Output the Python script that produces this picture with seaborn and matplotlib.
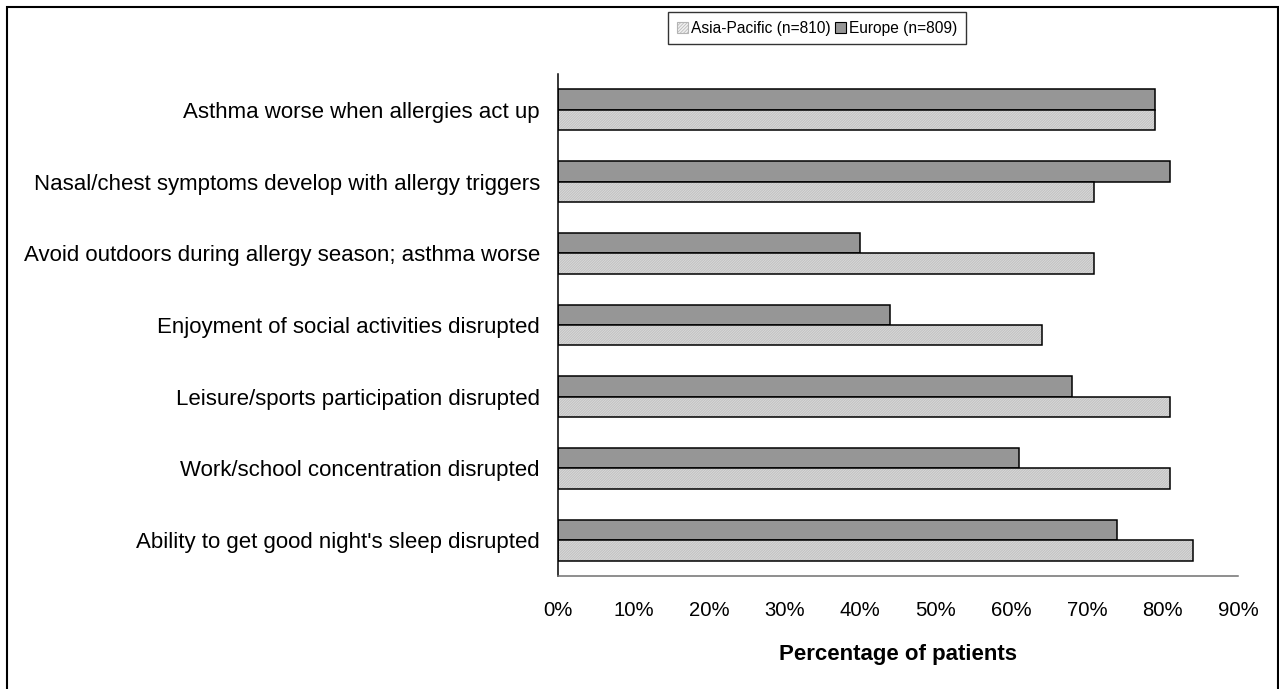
import numpy as np
import pandas as pd
import matplotlib.pyplot as plt
import seaborn as sns
from matplotlib.patches import Rectangle, Patch
from matplotlib.ticker import PercentFormatter

categories = [
    "Asthma worse when allergies act up",
    "Nasal/chest symptoms develop with allergy triggers",
    "Avoid outdoors during allergy season; asthma worse",
    "Enjoyment of social activities disrupted",
    "Leisure/sports participation disrupted",
    "Work/school concentration disrupted",
    "Ability to get good night's sleep disrupted",
]
europe = [79, 81, 40, 44, 68, 61, 74]
asia_pacific = [79, 71, 71, 64, 81, 81, 84]
series = ["Europe (n=809)", "Asia-Pacific (n=810)"]

df = pd.DataFrame({
    "Item": categories * 2,
    "Region": [series[0]] * len(categories) + [series[1]] * len(categories),
    "Percent": europe + asia_pacific,
})

sns.set_style("white")
plt.rcParams["font.family"] = ["Liberation Sans", "DejaVu Sans"]
plt.rcParams["hatch.linewidth"] = 0.5
plt.rcParams["text.color"] = "black"
plt.rcParams["xtick.color"] = "black"
plt.rcParams["ytick.color"] = "black"
plt.rcParams["axes.labelcolor"] = "black"

eu_color = "#969696"
ap_face = "#f0f0f0"
ap_hatch = "#b4b4b4"
hatch = "/" * 20

fig = plt.figure(figsize=(12.79, 6.89), dpi=100)
ax = fig.add_axes([558 / 1279, 1 - 576 / 689, (1238 - 558) / 1279, (576 - 74) / 689])

sns.barplot(data=df, y="Item", x="Percent", hue="Region", hue_order=series,
            order=categories, orient="h", width=0.57, saturation=1,
            palette=[eu_color, ap_face], edgecolor="black", linewidth=1.1,
            legend=False, ax=ax)

# hatched light bars for Asia-Pacific, keep a black outline on top
for bar in ax.containers[1]:
    bar.set_edgecolor(ap_hatch)
    bar.set_hatch(hatch)
    bar.set_linewidth(0)
    ax.add_patch(Rectangle(bar.get_xy(), bar.get_width(), bar.get_height(),
                           fill=False, edgecolor="black", linewidth=1.1, zorder=bar.get_zorder() + 0.1))

ax.set_xlim(0, 90)
ax.set_ylim(len(categories) - 0.5, -0.5)
ax.set_xticks(range(0, 91, 10))
ax.xaxis.set_major_formatter(PercentFormatter(decimals=0))
ax.set_yticks(range(len(categories)))
ax.set_yticklabels(categories)
ax.set_yticks(np.arange(-0.5, len(categories), 1), minor=True)

ax.tick_params(axis="y", which="major", length=0, pad=13, labelsize=16)
ax.tick_params(axis="y", which="minor", length=7, width=1.1, color="black", direction="out")
ax.tick_params(axis="x", which="major", length=5, width=1.1, color="#707070", direction="out",
               labelsize=14.6, pad=13)

for s in ["top", "right"]:
    ax.spines[s].set_visible(False)
ax.spines["left"].set_color("black")
ax.spines["left"].set_linewidth(1.1)
ax.spines["bottom"].set_color("#707070")
ax.spines["bottom"].set_linewidth(1.1)

ax.set_ylabel("")
ax.set_xlabel("Percentage of patients", fontweight="bold", fontsize=16, labelpad=17)

handles = [
    Patch(facecolor=ap_face, edgecolor="black", hatch="/" * 10, linewidth=0.8),
    Patch(facecolor=eu_color, edgecolor="black", linewidth=0.8),
]
leg = fig.legend(handles, [series[1], series[0]], loc="upper center",
                 bbox_to_anchor=(817 / 1279, 1 - 12 / 689), ncol=2, frameon=True,
                 fancybox=False, edgecolor="black", fontsize=11.2, handlelength=0.7,
                 handleheight=0.7, handletextpad=0.2, columnspacing=0.3,
                 borderpad=0.55, borderaxespad=0)
leg.get_frame().set_linewidth(1.0)
for h in leg.legend_handles[:1]:
    h.set_edgecolor("#b4b4b4")

# outer chart frame
fig.patches.append(Rectangle((7 / 1279, -0.1), (1278 - 7) / 1279, 1.1 - 7 / 689,
                             transform=fig.transFigure, fill=False,
                             edgecolor="black", linewidth=1.5))

fig.savefig("out.png", dpi=100)
